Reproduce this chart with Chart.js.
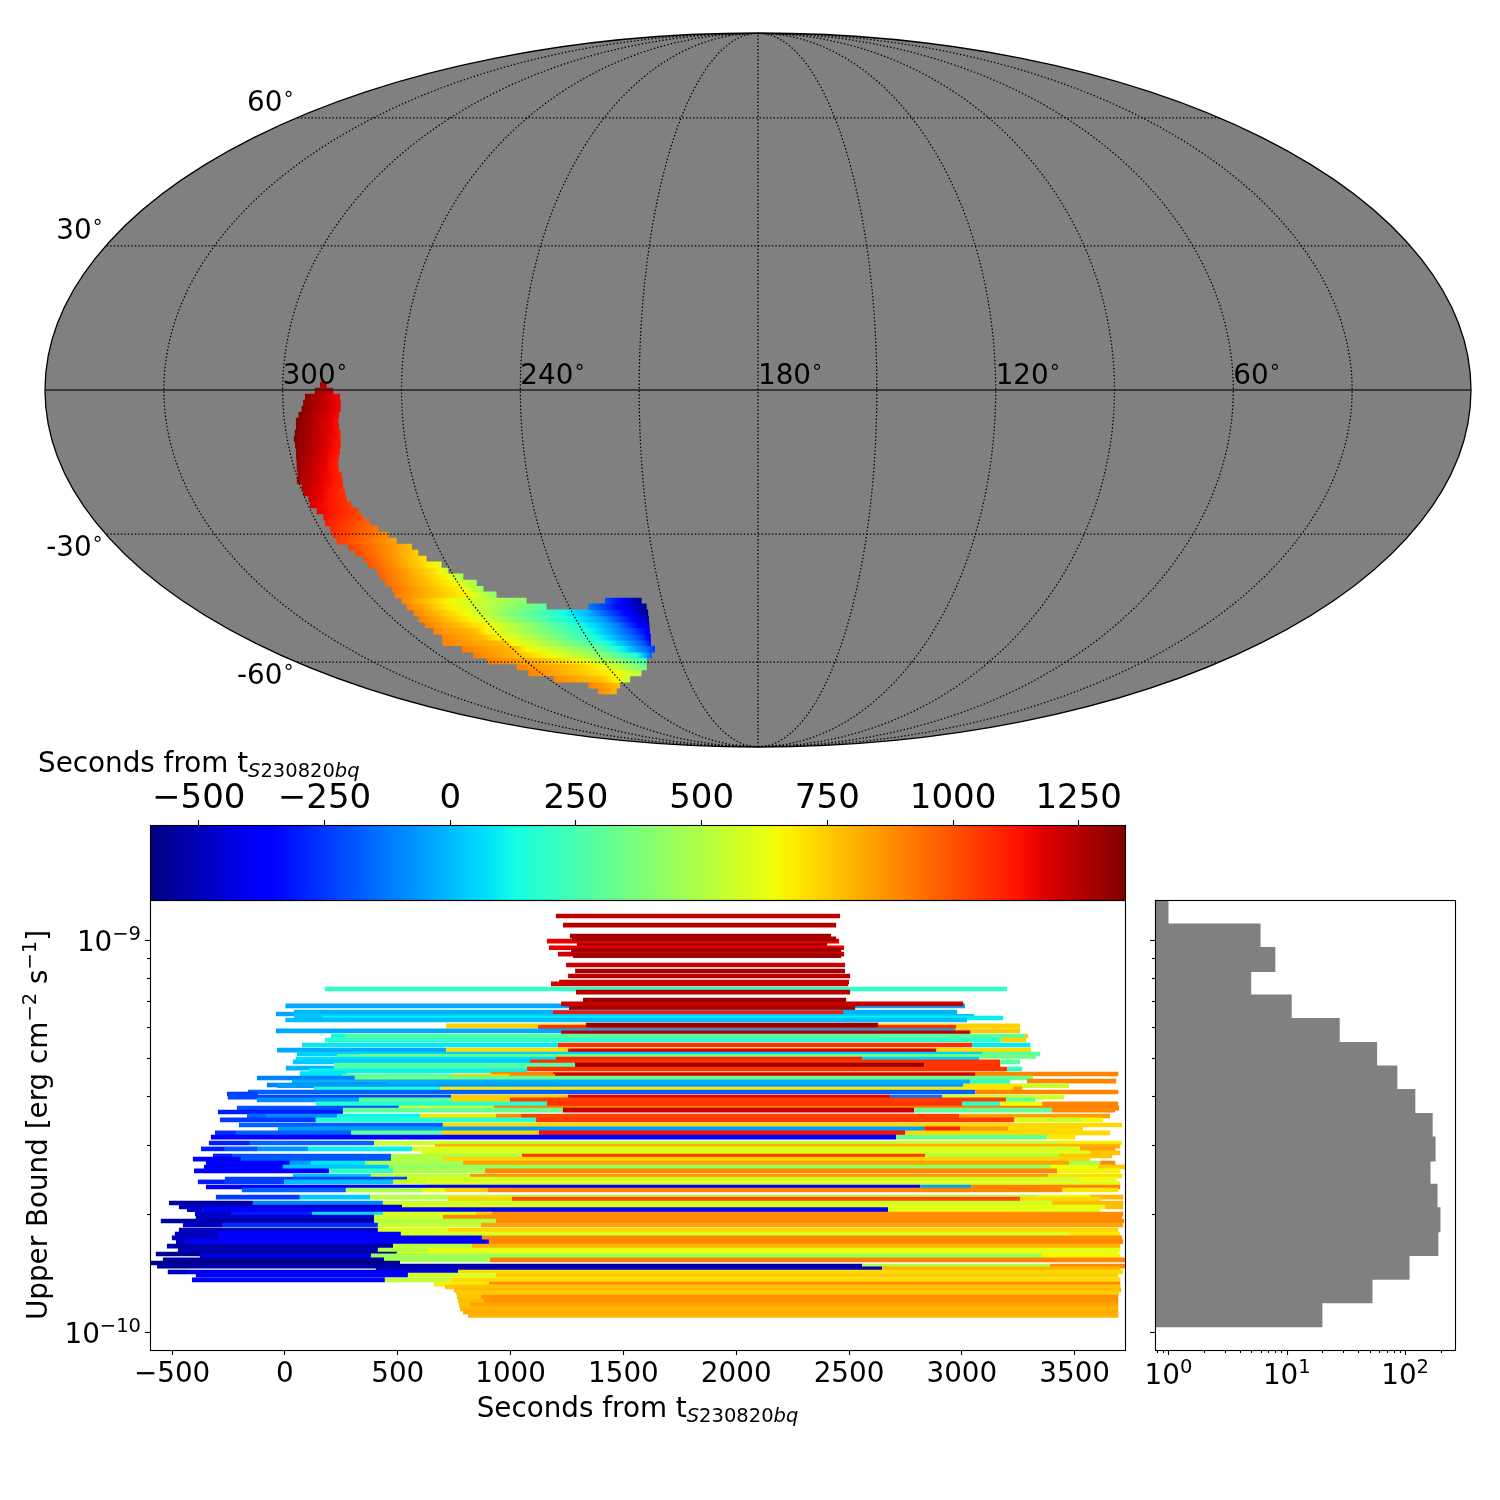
<!DOCTYPE html>
<html>
<head>
<meta charset="utf-8">
<style>
html, body { margin: 0; background: #fff; }
#wrap { position: relative; width: 1500px; height: 1500px; }
canvas { position: absolute; left: 0; top: 0; }
</style>
<script src="https://cdn.jsdelivr.net/npm/chart.js@4"></script>
</head>
<body>
<div id="wrap">
  <canvas id="mapChart" width="1500" height="1500"></canvas>
  <canvas id="cbarChart" width="1500" height="1500"></canvas>
  <canvas id="mainChart" width="1500" height="1500"></canvas>
  <canvas id="histChart" width="1500" height="1500"></canvas>
</div>
<script>
///////////////////  data
const secMin = -597, secMax = 1342;
const cbarTicks = [-500, -250, 0, 250, 500, 750, 1000, 1250];

const meridians = [30, 60, 90, 120, 150, 180, 210, 240, 270, 300, 330];
const parallels = [-60, -30, 30, 60];
const lonLabels = [300, 240, 180, 120, 60];
const latLabels = [60, 30, -30, -60];

// sky patch, one row per latitude: longitudes (deg) and seconds at those longitudes
const patchLat = [1.0, -0.2, -1.43, -2.66, -3.88, -5.1, -6.34, -7.59, -8.8, -10.03, -11.27, -12.5, -13.74, -14.98, -16.22, -17.47, -18.72, -19.97, -21.2, -22.5, -23.75, -25.0, -26.3, -27.6, -28.9, -30.2, -31.5, -32.8, -34.1, -35.4, -36.7, -38.1, -39.4, -40.8, -42.2, -43.5, -44.9, -44.9, -46.3, -46.3, -47.7, -49.2, -50.6, -52.1, -53.6, -55.0, -56.6, -58.1, -59.7, -61.3, -62.9, -64.6, -66.3, -68.0];
const patchLon = [
  [290.6, 288.9], [291.9, 287.2], [294.4, 285.5], [294.9, 285.4], [295.4, 285.5], [296.3, 286.0], [297.1, 286.3], [297.3, 286.3],
  [297.8, 286.2], [298.3, 286.4], [298.3, 286.6], [298.4, 287.1], [298.7, 287.7], [299.0, 288.2], [299.4, 288.5], [299.7, 288.2],
  [300.4, 288.4], [299.7, 288.8], [299.9, 288.8], [299.2, 289.0], [299.5, 288.4], [298.4, 287.2], [297.4, 286.6], [297.8, 285.5],
  [297.3, 284.1], [297.5, 282.1], [297.4, 280.7], [295.2, 277.3], [294.3, 276.4], [293.1, 275.0], [292.9, 275.5, 271.6], [291.7, 274.0, 270.7],
  [292.0, 273.0, 267.3], [291.9, 271.5, 264.4], [291.4, 269.5, 263.5], [292.0, 268.5, 260.6],
  [291.5, 276.4, 252.4], [227.9, 216.4], [291.7, 276.9, 247.2], [233.9, 215.4],
  [291.4, 276.3, 262.3, 246.2, 235.4, 224.6, 215.5], [291.8, 274.8, 259.4, 244.1, 230.9, 215.9],
  [291.7, 272.1, 256.4, 240.8, 227.4, 216.4], [291.1, 276.8, 272.6, 255.2, 239.2, 223.2, 217.0],
  [290.6, 276.1, 270.2, 252.1, 237.6, 221.9, 217.5], [292.8, 271.1, 268.1, 249.1, 234.7, 220.4, 218.3],
  [288.7, 269.1, 264.8, 242.8, 231.8, 217.8], [287.2, 270.9, 257.1, 238.3, 225.7, 220.0],
  [285.2, 265.8, 249.0, 232.2, 223.2], [276.6, 255.2, 241.9, 224.5], [275.1, 250.9, 237.1, 228.2],
  [268.0, 246.5, 237.9, 235.0], [256.1, 241.9], [255.0, 246.3]
];
const patchSecs = [
  [1260, 1240], [1300, 1200], [1320, 1150], [1325, 1150], [1330, 1145], [1335, 1140], [1339, 1130], [1339, 1130],
  [1339, 1125], [1335, 1120], [1330, 1115], [1325, 1110], [1320, 1105], [1310, 1100], [1300, 1095], [1290, 1090],
  [1280, 1085], [1250, 1075], [1235, 1065], [1210, 1060], [1190, 1045], [1170, 1030], [1140, 1000], [1120, 960],
  [1090, 920], [1070, 880], [1050, 830], [1040, 780], [1020, 740], [1010, 700], [1000, 700, 600], [980, 690, 550],
  [970, 680, 480], [950, 670, 450], [940, 660, 430], [920, 650, 400],
  [900, 650, 400], [-200, -560], [910, 660, 280], [-110, -560],
  [900, 680, 420, 190, 0, -300, -560], [910, 670, 400, 170, -60, -520],
  [910, 680, 420, 170, -100, -480], [890, 780, 660, 400, 170, -200, -400],
  [900, 780, 660, 400, 170, -200, -380], [900, 780, 660, 400, 170, -200, -350],
  [910, 780, 660, 400, 170, -250], [910, 780, 640, 400, 150, -170],
  [910, 800, 660, 380, 250], [900, 780, 660, 320], [900, 740, 640, 500],
  [890, 760, 600, 520], [900, 770], [880, 800]
];

// strip plot: log10 upper bound of each row, the edges in seconds, the colour value of each piece
const stripLog = [-8.939, -8.962, -8.990, -9.003, -8.997, -9.013, -9.020, -9.026, -9.036, -9.040, -9.064, -9.079, -9.092, -9.112, -9.107, -9.125, -9.133, -9.153, -9.168, -9.163, -9.173, -9.189, -9.184, -9.186, -9.195, -9.199, -9.204, -9.219, -9.223, -9.217, -9.232, -9.237, -9.245, -9.255, -9.268, -9.281, -9.283, -9.291, -9.297, -9.304, -9.311, -9.319, -9.327, -9.329, -9.334, -9.342, -9.341, -9.344, -9.347, -9.352, -9.360, -9.362, -9.370, -9.372, -9.380, -9.388, -9.393, -9.401, -9.408, -9.418, -9.429, -9.434, -9.439, -9.449, -9.459, -9.472, -9.482, -9.492, -9.503, -9.518, -9.526, -9.533, -9.543, -9.551, -9.559, -9.569, -9.579, -9.589, -9.602, -9.610, -9.617, -9.622, -9.630, -9.638, -9.656, -9.661, -9.671, -9.681, -9.688, -9.699, -9.707, -9.717, -9.727, -9.740, -9.750, -9.760, -9.770, -9.781, -9.791, -9.801, -9.806, -9.816, -9.824, -9.832, -9.839, -9.847, -9.855, -9.867, -9.878, -9.885, -9.893, -9.900, -9.911, -9.921, -9.931, -9.941, -9.949, -9.958];
const stripEdges = [
  [1201, 2460], [1232, 2443], [1263, 2420], [1161, 2456], [1272, 2443], [1294, 2403], [1170, 2478], [1268, 2465], [1210, 2478], [1277, 2465],
  [1246, 2482], [1286, 2482], [1255, 2505], [1179, 2496], [1215, 2500], [177, 3201], [1290, 2505], [1321, 2487], [0, 3014], [1224, 3006],
  [1259, 2527], [-40, 2491], [40, 2979], [1188, 2474], [40, 3054], [168, 3183], [0, 3023], [714, 3258], [1122, 2975], [1334, 2629],
  [-40, 2970, 3258], [1224, 3037], [204, 266, 3280, 3294], [177, 3174, 3285], [75, 1210, 3045, 3303], [-35, 714, 3307], [1255, 2886],
  [53, 3090, 3347], [231, 324, 3329], [49, 1201, 2558, 3076], [35, 1086, 3170, 3258], [217, 1286, 2833, 3170], [4, 217],
  [217, 1073, 3201, 3267], [106, 1073], [913, 3693], [66, 275], [1188, 3059], [253, 736, 993, 1197], [-124, 310, 3316], [3289, 3684],
  [31, 3037, 3214], [-80, 452], [-35, 3006, 3267, 3475], [129, 687, 3227, 3267], [-164, 3059, 3693], [-257, -120],
  [-253, 736, 1255, 2682, 2912, 3453], [-124, 137, 328, 736, 997, 3196, 3325], [137, 1161, 3001, 3170, 3356, 3693], [-213, 505, 926, 3697],
  [257, 1232, 2788, 3400, 3680], [-297, 257], [-168, -80, 231, 598, 935, 1046, 2988, 3657], [-288, 137, 1113, 3232, 3542, 3626],
  [-204, 700, 3710], [-31, 2833, 2992, 3205, 3537], [-310, -217, 293, 696, 1126, 2749, 3657], [-328, 2709, 3378, 3502],
  [-337, -155, 395, 3431, 3710], [665, 3702], [-372, -266, -120, 102, 563, 3524, 3680], [607, 3569, 3702],
  [-319, -231, 470, 1051, 2837, 3431, 3666], [-408, -195, 470, 700, 3569], [-350, 22, 115, 355, 789, 3475, 3613, 3680],
  [-359, -9, 461, 3391, 3604, 3724], [-403, 195, 479, 887, 3422, 3702], [35, 381, 820, 3382, 3710], [-266, 541, 3524, 3688],
  [-386, -266, -4, 479, 625], [625, 3702], [-350, 2815, 3041, 3702], [-191, 270, 607, 709, 900, 3444, 3693],
  [-306, 66, 377, 3338, 3569, 3715], [723, 1006, 3258, 3613], [-514, -142, 434, 3400, 3715], [-470, 519, 629, 3635, 3715],
  [-434, -364, 2673, 3613], [-399, -239, 120, 434, 847, 918, 3715], [-395, 395, 700, 3710], [-550, 395, 935, 3719],
  [-452, -275, 412, 869, 3715], [-470, 412, 723, 3693], [-488, -301, 514, 3475, 3702], [-501, -288, 873, 3710],
  [-483, -439, 904, 3715], [-523, 479, 829, 3702], [-474, 412, 634, 3702], [-572, 496, 3693], [-377, 381, 3356, 3702],
  [-541, 439, 909, 3724], [-594, 510], [-567, 2558, 3391, 3724], [403, 2647, 3702], [-519, -434, 767, 3715],
  [-395, 545, 935, 3693], [-412, 443, 736, 3702], [660, 904, 3702], [709, 3702], [749, 3706], [758, 3697],
  [762, 869, 3693], [767, 882, 3693], [771, 820, 3693], [776, 3693], [789, 3693], [811, 3693]
];
const stripSecs = [
  [1233], [1250], [1285], [1165], [1280], [1285], [1165], [1285], [1210], [1290],
  [1225], [1285], [1250], [1200], [1220], [200], [1245], [1310], [-35], [1225],
  [1270], [-40], [-10], [1130], [25], [100], [5], [740], [1070], [1310],
  [-35, 760], [1230], [120, 290, 740], [190, 740], [90, 1070, 90], [-30, 720], [1200],
  [45, 290], [290, 340], [70, 1100, 40], [30, 1065, 290], [270, 1300, 1060], [-15],
  [280, 1060, 190], [110], [894], [80], [1210], [300, 740, 894], [-110, 340], [894],
  [-20, 190], [-110], [-60, 700, 560], [150, 690, 850], [-170, 890], [-240],
  [-220, 740, 1180, -140, 560], [-90, -60, 300, 740, 1040, 300], [170, 1065, 190, 640, 894], [-200, 600, 910],
  [310, 1220, 310, 890], [-300], [-160, -90, 110, 700, 880, 1030, 840], [-240, 170, 1050, 570, 650],
  [-170, 720], [-60, 1100, 850, 720], [-270, -170, 300, 730, 1130, 720], [-370, 330, 690],
  [-300, -170, 560, 660], [800], [-300, -190, -70, 100, 590, 830], [600, 760],
  [-300, -190, 480, 1050, 480, 760], [-370, -190, 520, 730], [-370, -60, 80, 480, 830, 470, 880],
  [-360, 20, 430, 640, 750], [-370, 200, 480, 890, 660], [10, 530, 860, 710], [-230, 580, 640],
  [-300, -240, 10, 560], [610], [-390, -50, 900], [-170, 480, 620, 740, 894, 700],
  [-240, 30, 510, 630, 790], [730, 1020, 720], [-530, -110, 560, 780], [-480, 590, 620, 780],
  [-480, -390, 620], [-470, -310, 75, 600, 760, 880], [-470, 570, 880], [-540, 500, 890],
  [-470, -270, 560, 830], [-480, 590, 730], [-490, -370, 590, 690], [-480, -390, 880],
  [-490, -390, 890], [-530, 510, 800], [-510, 500, 620], [-570, 630], [-420, 440, 660],
  [-540, 470, 894], [-590], [-540, 500, 880], [-480, 800], [-490, -420, 720],
  [-390, 590, 740], [-380, 530, 720], [680, 880], [760], [790], [750],
  [760, 870], [780, 860], [770, 830], [790], [820], [800]
];

const stripTicks = [-500, 0, 500, 1000, 1500, 2000, 2500, 3000, 3500];
const upperMajor = [1e-9, 1e-10];
const upperMinor = [2e-10, 3e-10, 4e-10, 5e-10, 6e-10, 7e-10, 8e-10, 9e-10];

// histogram of the upper bounds
const histLog = [-8.929, -8.990, -9.050, -9.110, -9.171, -9.231, -9.292, -9.352, -9.412, -9.473, -9.533, -9.593, -9.654, -9.714, -9.774, -9.835, -9.895, -9.956];
const histCounts = [1, 6, 8, 5, 11, 28, 58, 86, 122, 171, 181, 164, 188, 199, 191, 109, 53, 20];
const countMajor = [1, 10, 100];
const countMinor = [0.8, 0.9, 2, 3, 4, 5, 6, 7, 8, 9, 20, 30, 40, 50, 60, 70, 80, 90, 200];

///////////////////  helpers
const FONT = '"DejaVu Sans"';
const BIG = 27.8, SMALL = 19.5;
Chart.defaults.font.family = 'DejaVu Sans';
Chart.defaults.color = '#000';
Chart.defaults.animation = false;

function lerpStops(stops, f) {
  for (let i = 1; i < stops.length; i++) {
    if (f <= stops[i][0]) {
      const a = stops[i - 1], b = stops[i];
      return a[1] + (b[1] - a[1]) * (f - a[0]) / (b[0] - a[0]);
    }
  }
  return stops[stops.length - 1][1];
}
const jetR = [[0, 0], [.35, 0], [.66, 1], [.89, 1], [1, .5]];
const jetG = [[0, 0], [.125, 0], [.375, 1], [.64, 1], [.91, 0], [1, 0]];
const jetB = [[0, .5], [.11, 1], [.34, 1], [.65, 0], [1, 0]];
function jet(sec) {
  const f = Math.min(1, Math.max(0, (sec - secMin) / (secMax - secMin)));
  const c = s => Math.round(lerpStops(s, f) * 255);
  return `rgb(${c(jetR)},${c(jetG)},${c(jetB)})`;
}

// mollweide, centred on 180 with longitude growing to the left
function project(lon, lat) {
  let th = lat * Math.PI / 180;
  if (Math.abs(lat) < 89.9) {
    const target = Math.PI * Math.sin(th);
    for (let i = 0; i < 40; i++) {
      th -= (2 * th + Math.sin(2 * th) - target) / (2 + 2 * Math.cos(2 * th));
    }
  }
  return { x: (180 - lon) / 180 * Math.cos(th), y: Math.sin(th) };
}

function drawRuns(ctx, runs, x, y, align) {
  let total = 0;
  runs.forEach(r => {
    ctx.font = `${r.i ? 'italic ' : ''}${r.s}px ${FONT}`;
    r.w = ctx.measureText(r.t).width;
    total += r.w;
  });
  let cx = align === 'right' ? x - total : align === 'center' ? x - total / 2 : x;
  ctx.fillStyle = '#000';
  ctx.textAlign = 'left';
  ctx.textBaseline = 'alphabetic';
  runs.forEach(r => {
    ctx.font = `${r.i ? 'italic ' : ''}${r.s}px ${FONT}`;
    ctx.fillText(r.t, cx, y + (r.d || 0));
    cx += r.w;
  });
}
const secondsLabel = () => [
  { t: 'Seconds from t', s: BIG },
  { t: 'S', s: SMALL, i: 1, d: 5 },
  { t: '230820', s: SMALL, d: 5 },
  { t: 'bq', s: SMALL, i: 1, d: 5 }
];
const powerLabel = v => [
  { t: '10', s: BIG },
  { t: String(Math.round(Math.log10(v))).replace('-', '\u2212'), s: SMALL, d: -11 }
];
const degLabel = v => [{ t: String(v), s: BIG }, { t: '\u2218', s: SMALL, d: -11 }];

function frame(ctx, a) {
  ctx.strokeStyle = '#000';
  ctx.lineWidth = 1.1;
  ctx.strokeRect(a.left + .5, a.top + .5, a.right - a.left, a.bottom - a.top);
}
const framePlugin = {
  id: 'framePlugin',
  afterDatasetsDraw(chart) { frame(chart.ctx, chart.chartArea); }
};
function yTickMarks(chart, showLabels) {
  const { ctx, chartArea: a, scales: { y } } = chart;
  ctx.strokeStyle = '#000';
  ctx.lineWidth = 1.1;
  const mark = (v, len) => {
    const p = Math.round(y.getPixelForValue(v)) + .5;
    ctx.beginPath(); ctx.moveTo(a.left - len, p); ctx.lineTo(a.left, p); ctx.stroke();
  };
  upperMinor.forEach(v => mark(v, 3));
  upperMajor.forEach(v => {
    mark(v, 5);
    if (showLabels) drawRuns(ctx, powerLabel(v), a.left - 9, y.getPixelForValue(v) + 11, 'right');
  });
}

///////////////////  map
const gridLats = [];
for (let la = -90; la <= 90; la += 2) gridLats.push(la);
const gridLons = [];
for (let lo = 0; lo <= 360; lo += 4) gridLons.push(lo);

const mapDatasets = [];
const gridStyle = { borderColor: '#000', borderWidth: 1.25, borderDash: [1.4, 2.1], pointRadius: 0, showLine: true, order: 0 };
meridians.forEach(m => mapDatasets.push({ ...gridStyle, data: gridLats.map(la => project(m, la)) }));
parallels.forEach(p => mapDatasets.push({ ...gridStyle, data: gridLons.map(lo => project(lo, p)) }));
mapDatasets.push({ ...gridStyle, borderDash: [], borderColor: '#222', borderWidth: 1.6, data: gridLons.map(lo => project(lo, 0)) });

patchLat.forEach((lat, i) => {
  mapDatasets.push({
    data: patchLon[i].map(lo => project(lo, lat)),
    showLine: true,
    pointRadius: 0,
    borderWidth: 6.6,
    borderCapStyle: 'butt',
    order: 1,
    borderColor(c) {
      const chart = c.chart;
      if (!chart.chartArea) return '#000';
      const px = patchLon[i].map(lo => chart.scales.x.getPixelForValue(project(lo, lat).x));
      const n = px.length - 1;
      const g = chart.ctx.createLinearGradient(px[0], 0, px[n], 0);
      const span = px[n] - px[0];
      for (let k = 0; k < n; k++) {
        for (let j = 0; j <= 6; j++) {
          const t = j / 6;
          g.addColorStop(Math.min(1, (px[k] + (px[k + 1] - px[k]) * t - px[0]) / span),
            jet(patchSecs[i][k] + (patchSecs[i][k + 1] - patchSecs[i][k]) * t));
        }
      }
      return g;
    }
  });
});

new Chart(document.getElementById('mapChart'), {
  type: 'scatter',
  data: { datasets: mapDatasets },
  options: {
    responsive: false,
    devicePixelRatio: 1,
    layout: { padding: { left: 45, right: 29, top: 33, bottom: 753 } },
    plugins: { legend: { display: false }, tooltip: { enabled: false } },
    scales: {
      x: { type: 'linear', min: -1, max: 1, display: false },
      y: { type: 'linear', min: -1, max: 1, display: false }
    }
  },
  plugins: [{
    id: 'skyDisk',
    beforeDatasetsDraw(chart) {
      const { ctx, chartArea: a } = chart;
      ctx.beginPath();
      ctx.ellipse((a.left + a.right) / 2, (a.top + a.bottom) / 2, (a.right - a.left) / 2, (a.bottom - a.top) / 2, 0, 0, Math.PI * 2);
      ctx.fillStyle = '#808080';
      ctx.fill();
      ctx.strokeStyle = '#000';
      ctx.lineWidth = 1.3;
      ctx.stroke();
    },
    afterDatasetsDraw(chart) {
      const { ctx, scales: { x, y } } = chart;
      lonLabels.forEach(lo => {
        const p = project(lo, 0);
        drawRuns(ctx, degLabel(lo), x.getPixelForValue(p.x), y.getPixelForValue(p.y) - 6, 'left');
      });
      latLabels.forEach(la => {
        const p = project(360, la);
        drawRuns(ctx, degLabel(la), x.getPixelForValue(p.x) - 2, y.getPixelForValue(p.y) + (la > 0 ? -7 : 22), 'right');
      });
    }
  }]
});

///////////////////  colorbar
new Chart(document.getElementById('cbarChart'), {
  type: 'bar',
  data: {
    labels: [''],
    datasets: [{
      data: [[secMin, secMax]],
      barPercentage: 1,
      categoryPercentage: 1,
      inflateAmount: 0,
      backgroundColor(c) {
        const chart = c.chart;
        if (!chart.chartArea) return '#000';
        const a = chart.chartArea;
        const g = chart.ctx.createLinearGradient(a.left, 0, a.right, 0);
        for (let k = 0; k <= 128; k++) g.addColorStop(k / 128, jet(secMin + (secMax - secMin) * k / 128));
        return g;
      }
    }]
  },
  options: {
    indexAxis: 'y',
    responsive: false,
    devicePixelRatio: 1,
    layout: { padding: { left: 150, right: 375, top: 765, bottom: 600 } },
    plugins: { legend: { display: false }, tooltip: { enabled: false } },
    scales: {
      x: {
        position: 'top',
        min: secMin,
        max: secMax,
        afterFit: s => { s.height = 60; },
        afterBuildTicks: s => { s.ticks = cbarTicks.map(v => ({ value: v })); },
        border: { display: false },
        grid: { drawOnChartArea: false, tickLength: 5, tickColor: '#000', tickWidth: 1.1 },
        ticks: {
          font: { size: 34 },
          color: '#000',
          padding: 0,
          maxRotation: 0,
          autoSkip: false,
          callback: v => String(v).replace('-', '\u2212')
        }
      },
      y: { display: false }
    }
  },
  plugins: [framePlugin, {
    id: 'cbarLabel',
    afterDraw(chart) {
      drawRuns(chart.ctx, secondsLabel(), chart.chartArea.left - 112, chart.chartArea.top - 53, 'left');
    }
  }]
});

///////////////////  strips
const stripBars = [];
const stripColors = [];
stripLog.forEach((lg, i) => {
  stripSecs[i].forEach((sec, k) => {
    stripBars.push({ x: [stripEdges[i][k], stripEdges[i][k + 1]], y: Math.pow(10, lg) });
    stripColors.push(jet(sec));
  });
});

new Chart(document.getElementById('mainChart'), {
  type: 'bar',
  data: {
    datasets: [{
      data: stripBars,
      backgroundColor: stripColors,
      barThickness: 4.6,
      borderWidth: 0,
      inflateAmount: 0
    }]
  },
  options: {
    indexAxis: 'y',
    responsive: false,
    devicePixelRatio: 1,
    layout: { padding: { left: 150, right: 375, top: 900, bottom: 90 } },
    plugins: { legend: { display: false }, tooltip: { enabled: false } },
    scales: {
      x: {
        type: 'linear',
        min: -598,
        max: 3723,
        afterFit: s => { s.height = 60; },
        afterBuildTicks: s => { s.ticks = stripTicks.map(v => ({ value: v })); },
        border: { display: false },
        grid: { drawOnChartArea: false, tickLength: 5, tickColor: '#000', tickWidth: 1.1 },
        ticks: {
          font: { size: BIG },
          color: '#000',
          padding: 3,
          maxRotation: 0,
          autoSkip: false,
          callback: v => String(v).replace('-', '\u2212')
        }
      },
      y: {
        type: 'logarithmic',
        min: Math.pow(10, -10.046),
        max: Math.pow(10, -8.898),
        offset: false,
        display: false
      }
    }
  },
  plugins: [framePlugin, {
    id: 'mainLabels',
    afterDraw(chart) {
      const { ctx, chartArea: a } = chart;
      yTickMarks(chart, true);
      drawRuns(ctx, secondsLabel(), (a.left + a.right) / 2, a.bottom + 67, 'center');
      ctx.save();
      ctx.translate(47, (a.top + a.bottom) / 2);
      ctx.rotate(-Math.PI / 2);
      drawRuns(ctx, [
        { t: 'Upper Bound [erg cm', s: BIG },
        { t: '\u22122', s: SMALL, d: -11 },
        { t: ' s', s: BIG },
        { t: '\u22121', s: SMALL, d: -11 },
        { t: ']', s: BIG }
      ], 0, 0, 'center');
      ctx.restore();
    }
  }]
});

///////////////////  histogram
new Chart(document.getElementById('histChart'), {
  type: 'bar',
  data: {
    datasets: [{
      data: histCounts.map((n, i) => ({ x: n, y: Math.pow(10, histLog[i]) })),
      backgroundColor: '#808080',
      base: 0.5,
      barThickness: 25,
      borderWidth: 0,
      inflateAmount: 0
    }]
  },
  options: {
    indexAxis: 'y',
    responsive: false,
    devicePixelRatio: 1,
    layout: { padding: { left: 1155, right: 45, top: 900, bottom: 150 } },
    plugins: { legend: { display: false }, tooltip: { enabled: false } },
    scales: {
      x: { type: 'logarithmic', min: 0.769, max: 264, display: false },
      y: {
        type: 'logarithmic',
        min: Math.pow(10, -10.046),
        max: Math.pow(10, -8.898),
        offset: false,
        display: false
      }
    }
  },
  plugins: [framePlugin, {
    id: 'histTicks',
    afterDraw(chart) {
      const { ctx, chartArea: a, scales: { x } } = chart;
      yTickMarks(chart, false);
      ctx.strokeStyle = '#000';
      ctx.lineWidth = 1.1;
      const mark = (v, len) => {
        const p = Math.round(x.getPixelForValue(v)) + .5;
        ctx.beginPath(); ctx.moveTo(p, a.bottom); ctx.lineTo(p, a.bottom + len); ctx.stroke();
      };
      countMinor.forEach(v => mark(v, 3));
      countMajor.forEach(v => {
        mark(v, 5);
        drawRuns(ctx, powerLabel(v), x.getPixelForValue(v), a.bottom + 34, 'center');
      });
    }
  }]
});
</script>
</body>
</html>
